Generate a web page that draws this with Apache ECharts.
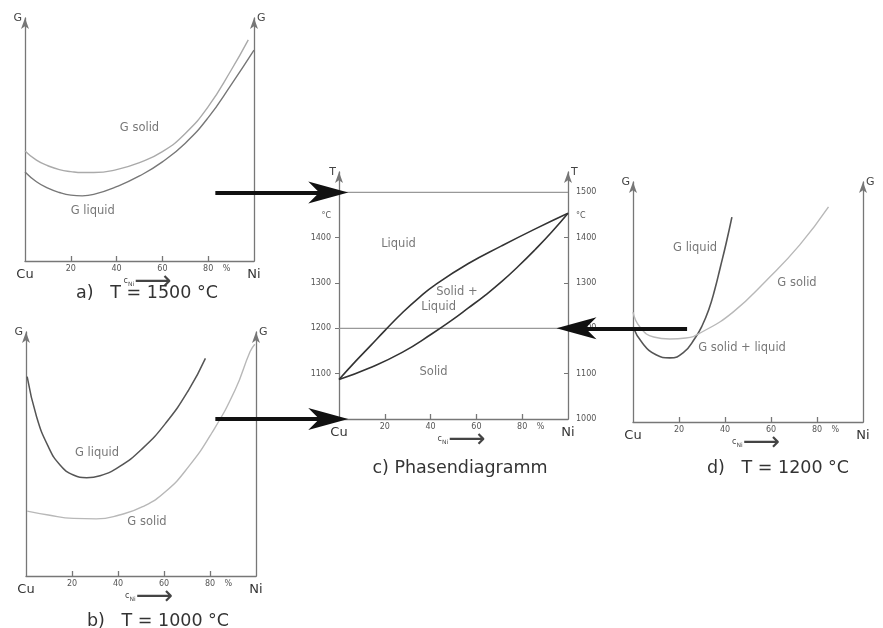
<!DOCTYPE html>
<html><head><meta charset="utf-8">
<script src="https://cdn.jsdelivr.net/npm/echarts@6/dist/echarts.min.js"></script>
<style>html,body{margin:0;padding:0;background:#fff}#c{width:883px;height:628px}</style>
</head><body><div id="c"></div>
<script>
// ---------- data ----------
const xTickPos = [20, 40, 60, 80];
const xLabelPos = [0, 20, 40, 60, 80, 88, 100];
const xLabelText = ['Cu', '20', '40', '60', '80', '%', 'Ni'];

const tTickPos = [1100, 1200, 1300, 1400];
const tLabelPosLeft = [1100, 1200, 1300, 1400, 1447];
const tLabelTextLeft = ['1100', '1200', '1300', '1400', '°C'];
const tLabelPosRight = [1000, 1100, 1200, 1300, 1400, 1447, 1500];
const tLabelTextRight = ['1000', '1100', '1200', '1300', '1400', '°C', '1500'];

// a) T = 1500 °C
const aSolid = [[0,45.3],[5,41.5],[10,39.2],[15,37.6],[20,36.8],[25,36.4],[30,36.4],[40,37.6],[50,40.5],[60,45],[70,52.5],[80,63.5],[90,78.5],[97.5,91]];
const aLiquid = [[0,36.6],[5,32.6],[10,30],[15,28.2],[20,27.1],[25,26.8],[30,27.4],[40,30.6],[50,35],[60,40.8],[70,48.5],[80,59],[90,72.5],[100,86.8]];
const aText = ['G solid', 'G liquid'];
const aTextPos = [[50, 54.7], [29.6, 20.6]];

// b) T = 1000 °C
const bLiquid = [[0.5,81.7],[4.6,65.3],[9.7,53],[14.8,45.5],[20.6,41.4],[26.4,40.3],[32.2,41.1],[40.6,44.8],[50.7,52.3],[60.7,62.6],[70.7,76.2],[78,89.2]];
const bSolid = [[0.5,26.6],[9.7,25],[20.6,23.6],[30.6,23.4],[40.6,25],[50.7,28.4],[60.7,34.6],[70.7,44.8],[80.7,58.5],[90.9,76.2],[97.4,91.9],[99.5,95]];
const bText = ['G liquid', 'G solid'];
const bTextPos = [[30.9, 50.4], [52.6, 22.1]];

// c) Phasendiagramm
const cLiquidus = [[0,1087],[7,1126],[14,1163],[20,1195],[28,1236],[35,1268],[42,1296],[56.5,1343],[71,1382],[85.5,1419],[100,1454]];
const cSolidus = [[0,1087],[13,1112],[27.6,1147],[40.6,1188],[49.3,1218],[56.5,1245],[63.8,1273],[71,1303],[78.3,1337],[85.5,1373],[92.8,1412],[100,1454]];
const isotherms = [1500, 1200];
const cText = ['Liquid', 'Solid +', 'Liquid', 'Solid'];
const cTextPos = [[26, 1385], [51.5, 1280], [43.5, 1247], [41.3, 1104]];
const arrows = [
  [[-54, 1500], [-4.7, 1500]],
  [[-54, 1000], [-4.7, 1000]],
  [[152, 1200], [103.7, 1200]]
];

// d) T = 1200 °C
const dLiquid = [[0,39.6],[4,33],[10,28],[16,26.7],[22,29],[27,35],[30,40],[33,47],[35.5,55],[38,64.6],[40.5,74.5],[43,85.4]];
const dSolid = [[0,45.8],[3,39.6],[9,35.4],[16,34.6],[23,35],[30,37.5],[43.5,45.8],[58,59],[72.5,73.8],[85,89.6]];
const dText = ['G liquid', 'G solid', 'G solid + liquid'];
const dTextPos = [[27, 72.5], [71.3, 57.9], [47.4, 30.8]];

const titles = ['a)   T = 1500 °C', 'b)   T = 1000 °C', 'c) Phasendiagramm', 'd)   T = 1200 °C'];

// ---------- styling / layout ----------
const FONT = 'DejaVu Sans';
const AX = '#777';
const DARK = '#555';
const LIGHT = '#b8b8b8';
const ARROW_HEAD = 'path://M-20,0M20,0M0,0L11,40L0,29L-11,40Z';

const grids = [
  {left: 25, top: 18, width: 229, height: 243},
  {left: 26, top: 332, width: 230, height: 244},
  {left: 339, top: 172, width: 229, height: 247},
  {left: 633, top: 182, width: 230, height: 240}
].map(g => Object.assign({outerBoundsMode: 'none', containLabel: false}, g));

function xAx(gi) {
  return {
    gridIndex: gi, type: 'value', min: 0, max: 100, splitLine: {show: false},
    axisLine: {lineStyle: {color: AX, width: 1.3}},
    axisTick: {show: true, inside: true, length: 5, customValues: xTickPos, lineStyle: {color: AX, width: 1.3}},
    axisLabel: {
      customValues: xLabelPos, margin: 4, fontSize: 8, color: '#555', fontFamily: FONT, hideOverlap: false,
      formatter: v => {
        const i = xLabelPos.indexOf(v);
        const t = xLabelText[i];
        return (i === 0 || i === xLabelPos.length - 1) ? '{el|' + t + '}' : t;
      },
      rich: {el: {fontSize: 13, color: '#333', fontFamily: FONT, padding: [3, 0, 0, 0]}}
    },
    name: '{c|c}{s|Ni}{ar|⟶}', nameLocation: 'middle', nameGap: 16, nameMoveOverlap: false,
    nameTextStyle: {
      padding: [0, 0, 0, 16], lineHeight: 10,
      rich: {
        c: {fontSize: 8, color: '#444', fontFamily: FONT, lineHeight: 10, verticalAlign: 'top'},
        s: {fontSize: 6, color: '#444', fontFamily: FONT, lineHeight: 10, verticalAlign: 'bottom'},
        ar: {fontSize: 26, color: '#444', fontFamily: FONT, lineHeight: 10, verticalAlign: 'middle'}
      }
    }
  };
}

function gY(gi, pos) {
  return {
    gridIndex: gi, type: 'value', min: 0, max: 100, position: pos, splitLine: {show: false},
    axisLine: {show: true, onZero: false, symbol: ['none', 'arrow'], symbolSize: [6, 11], lineStyle: {color: AX, width: 1.3}},
    axisTick: {show: false}, axisLabel: {show: false},
    name: 'G', nameLocation: 'end', nameGap: -6,
    nameTextStyle: {fontSize: 11, color: '#444', fontFamily: FONT, align: pos === 'left' ? 'right' : 'left',
      padding: pos === 'left' ? [0, 3, 0, 0] : [0, 0, 0, 3]}
  };
}

function tY(pos) {
  const lp = pos === 'left' ? tLabelPosLeft : tLabelPosRight;
  const lt = pos === 'left' ? tLabelTextLeft : tLabelTextRight;
  return {
    gridIndex: 2, type: 'value', min: 1000, max: 1545, position: pos, splitLine: {show: false},
    axisLine: {show: true, onZero: false, symbol: ['none', 'arrow'], symbolSize: [6, 11], lineStyle: {color: AX, width: 1.3}},
    axisTick: {show: true, inside: pos === 'right', length: 4, customValues: tTickPos, lineStyle: {color: AX}},
    axisLabel: {customValues: lp, margin: 8, fontSize: 8, color: '#555', fontFamily: FONT, hideOverlap: false,
      formatter: v => lt[lp.indexOf(v)]},
    name: 'T', nameLocation: 'end', nameGap: -6,
    nameTextStyle: {fontSize: 11, color: '#444', fontFamily: FONT, align: pos === 'left' ? 'right' : 'left',
      padding: pos === 'left' ? [0, 3, 0, 0] : [0, 0, 0, 3]}
  };
}

function curve(gi, yi, data, color, w) {
  return {type: 'line', xAxisIndex: gi, yAxisIndex: yi, data: data, smooth: 0.5, showSymbol: false,
    lineStyle: {color: color, width: w}, silent: true, z: 3};
}
function texts(gi, yi, names, pos) {
  return {type: 'scatter', xAxisIndex: gi, yAxisIndex: yi, symbolSize: 0, silent: true, z: 4,
    data: names.map((n, i) => ({name: n, value: pos[i]})),
    label: {show: true, position: 'inside', formatter: '{b}', fontSize: 11.5, color: '#555', fontFamily: FONT}};
}

const titlePos = [[147, 284], [158, 612], [460, 459], [778, 459]];

const option = {
  animation: false,
  backgroundColor: '#fff',
  title: titles.map((t, i) => ({text: t, left: titlePos[i][0], top: titlePos[i][1], textAlign: 'center', padding: 0,
    textStyle: {fontSize: 17.5, fontWeight: 'normal', color: '#333', fontFamily: FONT}})),
  grid: grids,
  xAxis: [xAx(0), xAx(1), xAx(2), xAx(3)],
  yAxis: [gY(0, 'left'), gY(0, 'right'), gY(1, 'left'), gY(1, 'right'), tY('left'), tY('right'), gY(3, 'left'), gY(3, 'right')],
  series: [
    curve(0, 0, aSolid, '#aaa', 1.4),
    curve(0, 0, aLiquid, '#777', 1.4),
    texts(0, 0, aText, aTextPos),
    curve(1, 2, bLiquid, DARK, 1.5),
    curve(1, 2, bSolid, LIGHT, 1.4),
    texts(1, 2, bText, bTextPos),
    ...isotherms.map(t => ({type: 'line', xAxisIndex: 2, yAxisIndex: 4, data: [[0, t], [100, t]], showSymbol: false,
      lineStyle: {color: '#999', width: 1.3}, silent: true, z: 2})),
    curve(2, 4, cLiquidus, '#333', 1.6),
    curve(2, 4, cSolidus, '#333', 1.6),
    texts(2, 4, cText, cTextPos),
    curve(3, 6, dLiquid, DARK, 1.6),
    curve(3, 6, dSolid, LIGHT, 1.4),
    texts(3, 6, dText, dTextPos),
    {type: 'lines', coordinateSystem: 'cartesian2d', xAxisIndex: 2, yAxisIndex: 4, clip: false, silent: true, z: 10,
      symbol: ['none', ARROW_HEAD], symbolSize: 40,
      lineStyle: {color: '#111', width: 4, opacity: 1, curveness: 0},
      data: arrows.map(a => ({coords: a}))}
  ]
};
const chart = echarts.init(document.getElementById('c'), null, {renderer: 'canvas'});
chart.setOption(option);
</script>
</body></html>
